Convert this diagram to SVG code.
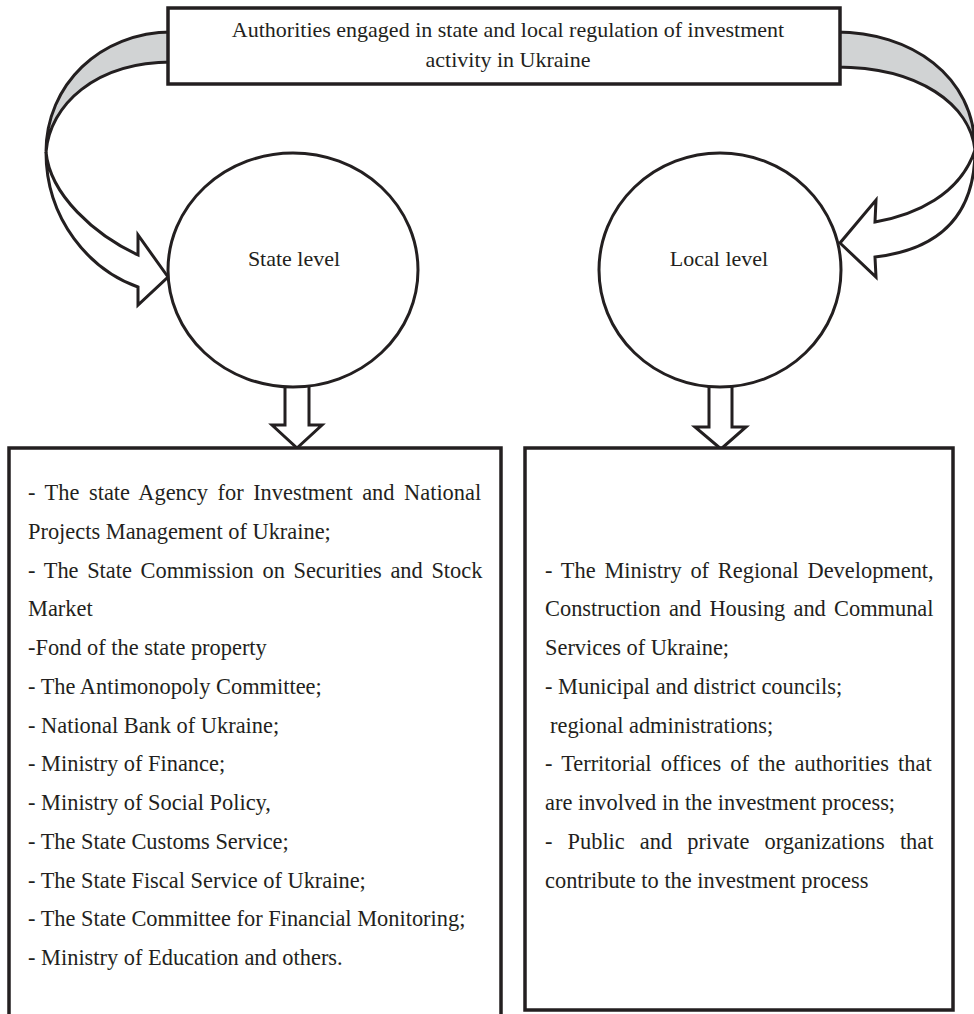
<svg xmlns="http://www.w3.org/2000/svg" width="974" height="1014" viewBox="0 0 974 1014">
<style>
.ln{stroke:#231f20;stroke-width:3;stroke-linejoin:miter;fill:#fff}
.gr{stroke:#231f20;stroke-width:3;fill:#d1d3d4;stroke-linejoin:round}
.bx{stroke:#231f20;stroke-width:3.5;fill:#fff}
.t{font-family:"Liberation Serif","Times New Roman",serif;font-size:22px;fill:#231f20}
.b{font-family:"Liberation Serif","Times New Roman",serif;font-size:22.4px;fill:#231f20}
</style>
<rect x="0" y="0" width="974" height="1014" fill="#fff"/>
<g id="connectors">
  <path class="gr" d="M172,32 C100,32 46,85 46,152 C50,105 95,62 172,62 Z"/>
  <path class="ln" d="M46,152 C46,220 90,270 138,287 L138,305 L168,277 L138,235 L138,255 C95,235 50,195 46,152 Z"/>
  <path class="gr" d="M836,32 C910,32 975,75 975,150 C970,105 920,67 836,67 Z"/>
  <path class="ln" d="M975,150 C975,220 935,250 875,257 L876,277 L840,243 L876,200 L875,222 C915,215 960,195 975,150 Z"/>
  <polygon class="ln" points="285,384 309,384 309,425 322,425 297,448 272,425 285,425"/>
  <polygon class="ln" points="709,384 732,384 732,427 746,427 721,449 695,427 709,427"/>
</g>
<g id="top">
  <rect class="bx" x="168" y="8" width="672" height="76"/>
  <text class="t" x="508" y="37" text-anchor="middle">Authorities engaged in state and local regulation of investment</text>
  <text class="t" x="508" y="67" text-anchor="middle">activity in Ukraine</text>
</g>
<g id="state">
  <ellipse class="ln" cx="293" cy="270" rx="125" ry="117"/>
  <text class="t" x="294" y="266" text-anchor="middle">State level</text>
</g>
<g id="local">
  <ellipse class="ln" cx="720" cy="270" rx="121" ry="117"/>
  <text class="t" x="719" y="266" text-anchor="middle">Local level</text>
</g>
<g id="state-list">
  <rect class="bx" x="9" y="448" width="492" height="590"/>
  <text class="b" x="28" y="500" word-spacing="3.95">- The state Agency for Investment and National</text>
  <text class="b" x="28" y="538.75">Projects Management of Ukraine;</text>
  <text class="b" x="28" y="577.5" word-spacing="3.05">- The State Commission on Securities and Stock</text>
  <text class="b" x="28" y="616.25">Market</text>
  <text class="b" x="28" y="655">-Fond of the state property</text>
  <text class="b" x="28" y="693.75">- The Antimonopoly Committee;</text>
  <text class="b" x="28" y="732.5">- National Bank of Ukraine;</text>
  <text class="b" x="28" y="771.25">- Ministry of Finance;</text>
  <text class="b" x="28" y="810">- Ministry of Social Policy,</text>
  <text class="b" x="28" y="848.75">- The State Customs Service;</text>
  <text class="b" x="28" y="887.5">- The State Fiscal Service of Ukraine;</text>
  <text class="b" x="28" y="926.25">- The State Committee for Financial Monitoring;</text>
  <text class="b" x="28" y="965">- Ministry of Education and others.</text>
</g>
<g id="local-list">
  <rect class="bx" x="525" y="448" width="428" height="562"/>
  <text class="b" x="545" y="577.5" word-spacing="3.2">- The Ministry of Regional Development,</text>
  <text class="b" x="545" y="616.25" word-spacing="2.6">Construction and Housing and Communal</text>
  <text class="b" x="545" y="655">Services of Ukraine;</text>
  <text class="b" x="545" y="693.75">- Municipal and district councils;</text>
  <text class="b" x="550" y="732.5">regional administrations;</text>
  <text class="b" x="545" y="771.25" word-spacing="3.5">- Territorial offices of the authorities that</text>
  <text class="b" x="545" y="810">are involved in the investment process;</text>
  <text class="b" x="545" y="848.75" word-spacing="9.5">- Public and private organizations that</text>
  <text class="b" x="545" y="887.5">contribute to the investment process</text>
</g>
</svg>
